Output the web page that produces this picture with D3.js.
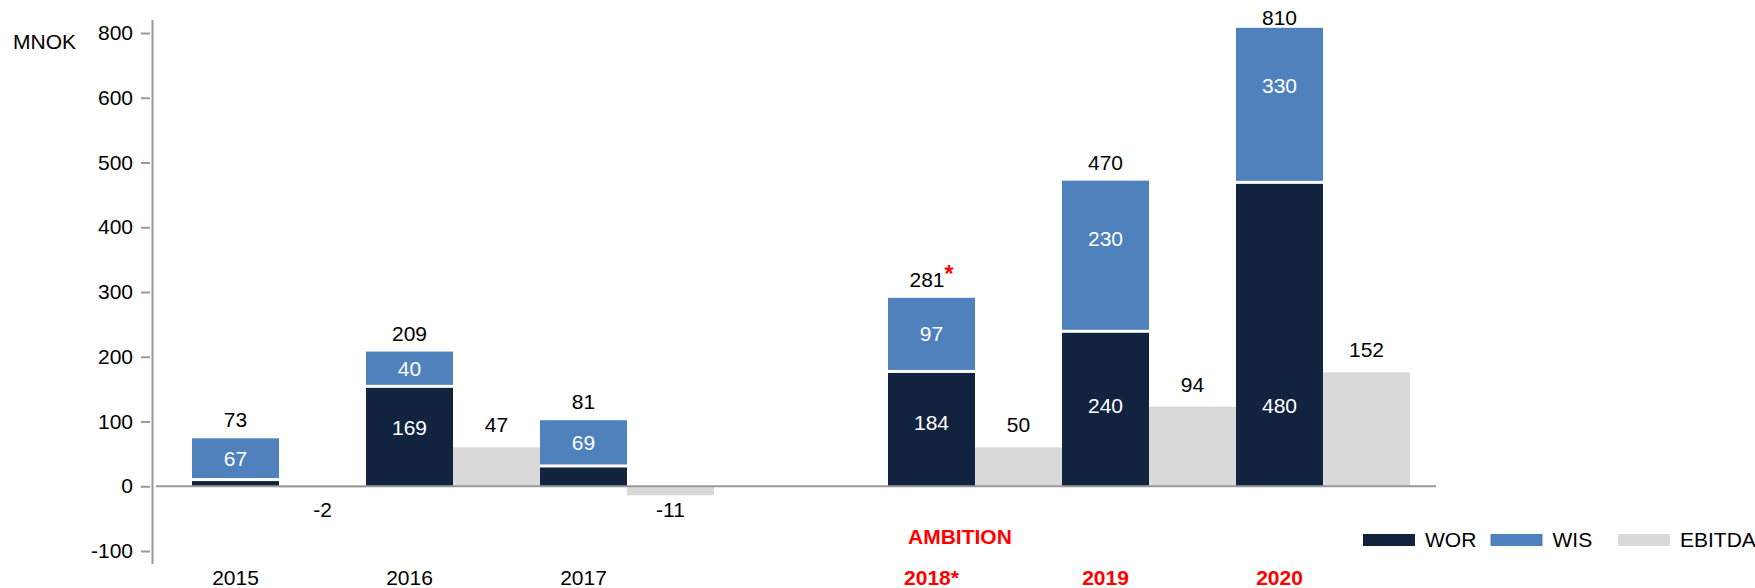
<!DOCTYPE html>
<html>
<head>
<meta charset="utf-8">
<script src="https://cdn.jsdelivr.net/npm/d3@7"></script>
<style>
  html, body { margin: 0; padding: 0; background: #fff; }
  svg { display: block; }
  text { font-family: "Liberation Sans", Arial, sans-serif; }
</style>
</head>
<body>
<div id="chart"></div>
<script>
// data (bar heights as drawn, labels as printed)
var categories = ["2015", "2016", "2017", "2018", "2019", "2020"];
var slots = ["2015", "2016", "2017", "spacer", "2018", "2019", "2020"];
var yearLabels = ["2015", "2016", "2017", "2018*", "2019", "2020"];
var worValues = [8, 152, 29, 175, 237, 467];
var wisValues = [66, 56, 73, 116, 235, 241];
var ebitdaValues = [-2, 60, -14, 60, 123, 176];
var worLabels = ["", "169", "", "184", "240", "480"];
var wisLabels = ["67", "40", "69", "97", "230", "330"];
var totalLabels = ["73", "209", "81", "281", "470", "810"];
var ebitdaLabels = ["-2", "47", "-11", "50", "94", "152"];
var tickValues = [-100, 0, 100, 200, 300, 400, 500, 600, 700];
var tickLabels = ["-100", "0", "100", "200", "300", "400", "500", "600", "800"];
var legendNames = ["WOR", "WIS", "EBITDA"];

var width = 1755;
var height = 588;
var fontSize = 21;
var colorWor = "#12233f";
var colorWis = "#4f81bd";
var colorEbitda = "#d9d9d9";
var colorAxis = "#999999";
var colorRed = "#ff0000";

var svg = d3.select("#chart")
  .append("svg")
  .attr("width", width)
  .attr("height", height);

var x = d3.scaleBand().domain(slots).range([192, 1410]).padding(0);
var half = x.bandwidth() / 2;
var y = d3.scaleLinear().domain([-100, 700]).range([551, 33]);

var rows = categories.map(function (c, i) {
  return {
    year: c,
    label: yearLabels[i],
    wor: worValues[i],
    wis: wisValues[i],
    ebitda: ebitdaValues[i],
    worLabel: worLabels[i],
    wisLabel: wisLabels[i],
    total: totalLabels[i],
    ebitdaLabel: ebitdaLabels[i],
    red: i >= 3
  };
});

// y axis
svg.append("line")
  .attr("x1", 152.5).attr("x2", 152.5)
  .attr("y1", 20).attr("y2", 564)
  .attr("stroke", colorAxis)
  .attr("stroke-width", 2);

var yAxis = svg.append("g")
  .attr("transform", "translate(150,0)")
  .call(d3.axisLeft(y)
    .tickValues(tickValues)
    .tickSize(9)
    .tickPadding(8)
    .tickFormat(function (d, i) { return tickLabels[i]; }));
yAxis.select(".domain").remove();
yAxis.selectAll(".tick line").attr("stroke", colorAxis).attr("stroke-width", 2);
yAxis.selectAll(".tick text")
  .attr("fill", "#000")
  .style("font-size", fontSize + "px")
  .style("font-family", "'Liberation Sans', Arial, sans-serif");

svg.append("text")
  .attr("x", 13).attr("y", 49)
  .attr("fill", "#000")
  .style("font-size", fontSize + "px")
  .text("MNOK");

// bars
var bars = svg.append("g");

bars.selectAll("rect.wor")
  .data(rows)
  .enter()
  .append("rect")
  .attr("class", "wor")
  .attr("x", function (d) { return x(d.year); })
  .attr("y", function (d) { return y(d.wor); })
  .attr("width", half)
  .attr("height", function (d) { return y(0) - y(d.wor); })
  .attr("fill", colorWor);

bars.selectAll("rect.wis")
  .data(rows)
  .enter()
  .append("rect")
  .attr("class", "wis")
  .attr("x", function (d) { return x(d.year); })
  .attr("y", function (d) { return y(d.wor + d.wis); })
  .attr("width", half)
  .attr("height", function (d) { return y(d.wor) - y(d.wor + d.wis) - 3; })
  .attr("fill", colorWis);

bars.selectAll("rect.ebitda")
  .data(rows)
  .enter()
  .append("rect")
  .attr("class", "ebitda")
  .attr("x", function (d) { return x(d.year) + half; })
  .attr("y", function (d) { return y(Math.max(0, d.ebitda)); })
  .attr("width", half)
  .attr("height", function (d) { return Math.abs(y(d.ebitda) - y(0)); })
  .attr("fill", colorEbitda);

// zero line
svg.append("line")
  .attr("x1", 156).attr("x2", 1436)
  .attr("y1", y(0)).attr("y2", y(0))
  .attr("stroke", colorAxis)
  .attr("stroke-width", 2);

// labels inside bars
var labels = svg.append("g").style("font-size", fontSize + "px");

labels.selectAll("text.worlab")
  .data(rows.filter(function (d) { return d.worLabel !== ""; }))
  .enter()
  .append("text")
  .attr("class", "worlab")
  .attr("x", function (d) { return x(d.year) + half / 2; })
  .attr("y", function (d) { return y(Math.min(+d.worLabel / 2 + 6, 125)); })
  .attr("dy", "0.35em")
  .attr("text-anchor", "middle")
  .attr("fill", "#fff")
  .text(function (d) { return d.worLabel; });

labels.selectAll("text.wislab")
  .data(rows)
  .enter()
  .append("text")
  .attr("class", "wislab")
  .attr("x", function (d) { return x(d.year) + half / 2; })
  .attr("y", function (d) {
    var top = y(d.wor + d.wis);
    var mid = (top + y(d.wor) - 3) / 2;
    return Math.min(mid, top + 58);
  })
  .attr("dy", "0.35em")
  .attr("text-anchor", "middle")
  .attr("fill", "#fff")
  .text(function (d) { return d.wisLabel; });

// totals above stacks
var totals = labels.selectAll("text.total")
  .data(rows)
  .enter()
  .append("text")
  .attr("class", "total")
  .attr("x", function (d) { return x(d.year) + half / 2; })
  .attr("y", function (d) { return Math.max(y(d.wor + d.wis) - 11, 25); })
  .attr("text-anchor", "middle")
  .attr("fill", "#000");
totals.append("tspan").text(function (d) { return d.total; });
totals.filter(function (d) { return d.year === "2018"; })
  .append("tspan")
  .attr("dy", -5)
  .attr("fill", colorRed)
  .style("font-weight", "bold")
  .style("font-size", "23px")
  .text("*");

// EBITDA labels
labels.selectAll("text.eblab")
  .data(rows)
  .enter()
  .append("text")
  .attr("class", "eblab")
  .attr("x", function (d) { return x(d.year) + half * 1.5; })
  .attr("y", function (d) {
    return d.ebitda < 0 ? y(0) + 31 : y(d.ebitda) - 15;
  })
  .attr("text-anchor", "middle")
  .attr("fill", "#000")
  .text(function (d) { return d.ebitdaLabel; });

// category labels
labels.selectAll("text.year")
  .data(rows)
  .enter()
  .append("text")
  .attr("class", "year")
  .attr("x", function (d) { return x(d.year) + half / 2; })
  .attr("y", 585)
  .attr("text-anchor", "middle")
  .attr("fill", function (d) { return d.red ? colorRed : "#000"; })
  .style("font-weight", function (d) { return d.red ? "bold" : "normal"; })
  .text(function (d) { return d.label; });

labels.append("text")
  .attr("x", x("2018") + 20)
  .attr("y", 544)
  .attr("fill", colorRed)
  .style("font-weight", "bold")
  .text("AMBITION");

// legend
var legendColors = [colorWor, colorWis, colorEbitda];
var legend = svg.append("g")
  .selectAll("g")
  .data(legendNames)
  .enter()
  .append("g")
  .attr("transform", function (d, i) { return "translate(" + (1363 + i * 127.5) + ",534)"; });

legend.append("rect")
  .attr("width", 52)
  .attr("height", 12)
  .attr("fill", function (d, i) { return legendColors[i]; });

legend.append("text")
  .attr("x", 62)
  .attr("y", 6)
  .attr("dy", "0.35em")
  .attr("fill", "#000")
  .style("font-size", fontSize + "px")
  .text(function (d) { return d; });
</script>
</body>
</html>
